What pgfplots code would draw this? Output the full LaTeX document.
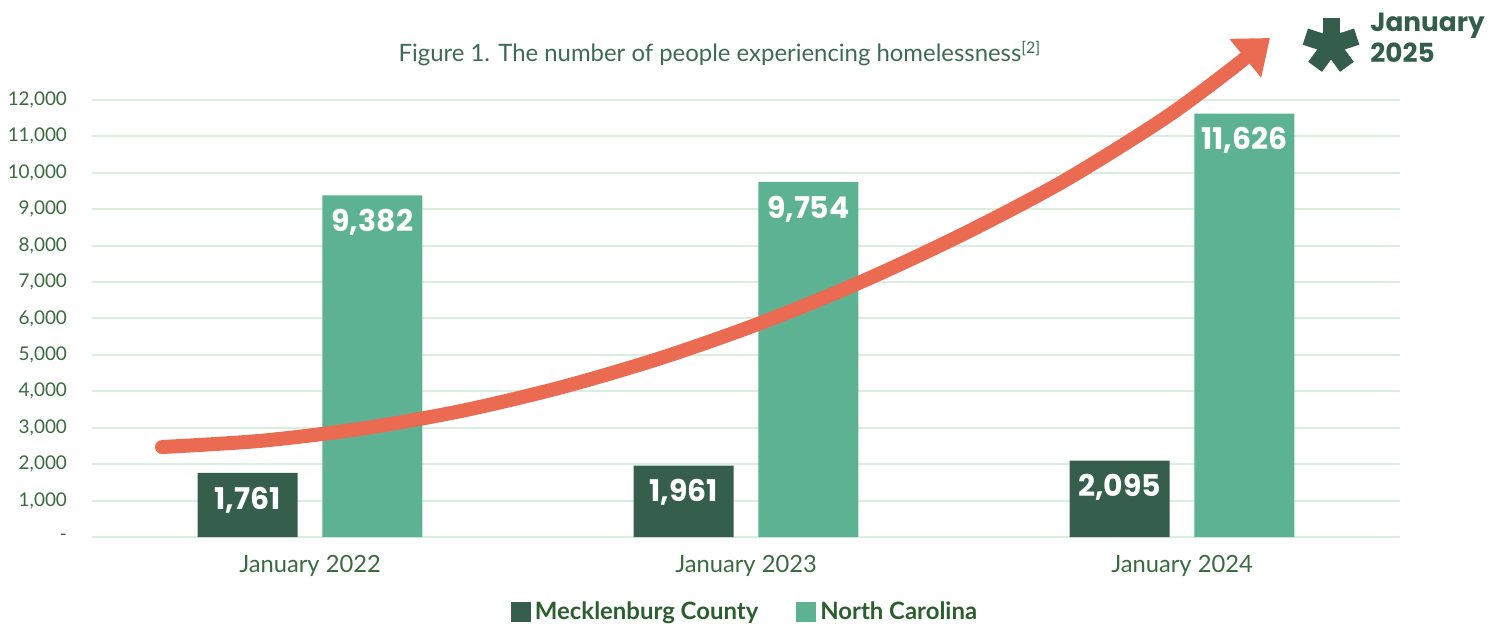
\documentclass[border=0pt]{standalone}
\usepackage{pgfplots}
\pgfplotsset{compat=1.18}
\usetikzlibrary{arrows.meta}
\usepackage{fontspec}
\setmainfont{Lato}
\newfontfamily\pop{Poppins}
\definecolor{darkbar}{HTML}{365E4C}
\definecolor{lightbar}{HTML}{5EB294}
\definecolor{arrowc}{HTML}{EA6A52}
\definecolor{gridc}{HTML}{D8EEDF}
\definecolor{tickc}{HTML}{3A6A40}
\definecolor{titlec}{HTML}{3D6A58}
\definecolor{legc}{HTML}{2D5E2F}
\definecolor{astc}{HTML}{345E4B}
\begin{document}
\begin{tikzpicture}
\useasboundingbox (0,0) rectangle (750bp,313bp);
\begin{axis}[
  at={(46bp,44.5bp)}, anchor=south west,
  scale only axis, width=654bp, height=218.5bp,
  xmin=-0.5, xmax=2.5, ymin=0, ymax=12000,
  clip=false,
  ybar, bar width=0.229,
  scaled y ticks=false,
  axis line style={draw=none},
  major tick length=0,
  ymajorgrids, grid style={color=gridc, line width=1bp},
  xtick={0,1,2},
  xticklabels={January 2022, January 2023, January 2024},
  ytick={0,1000,...,12000},
  yticklabels={{-\hspace{6bp}},{1,000},{2,000},{3,000},{4,000},{5,000},{6,000},{7,000},{8,000},{9,000},{10,000},{11,000},{12,000}},
  xticklabel style={anchor=base, yshift=-17.5bp, font=\fontsize{11.9}{14}\selectfont, text=tickc},
  yticklabel style={anchor=east, xshift=-9bp, font=\fontsize{9.5}{11}\selectfont, text=tickc},
  /pgf/number format/.cd, 1000 sep={,}, assume math mode=true, /pgfplots/.cd,
  legend columns=2,
  legend style={at={(0.5,-0.172)}, anchor=center, draw=none, fill=none,
    font=\fontsize{12}{14}\selectfont\bfseries, text=legc,
    /tikz/every even column/.append style={column sep=17bp}},
  legend image code/.code={\fill[#1] (0bp,-5bp) rectangle (10bp,5bp);},
  nodes near coords style={anchor=center, yshift=-13.5bp, text=white, font=\pop\bfseries\fontsize{15}{17}\selectfont},
]
\addplot[bar shift=-0.143, fill=darkbar, draw=none, nodes near coords]
  coordinates {(0,1761) (1,1961) (2,2095)};
\addlegendentry{Mecklenburg County}
\addplot[bar shift=0.143, fill=lightbar, draw=none, nodes near coords]
  coordinates {(0,9382) (1,9754) (2,11626)};
\addlegendentry{North Carolina}
\addplot[sharp plot, smooth, color=arrowc, line width=7bp, line cap=round,
  -{Triangle[width=24bp,length=16bp]}, forget plot]
  coordinates {(-0.3394,2471) (-0.1101,2644) (0.1193,2977) (0.3486,3465) (0.5780,4116)
   (0.8073,4924) (1.0367,5890) (1.2661,7016) (1.4954,8301) (1.7248,9746)
   (1.9541,11451) (2.0986,12714) (2.2018,13703)};
\end{axis}
\node[anchor=base, text=titlec, font=\fontsize{12}{14}\selectfont] at (360bp,282bp)
  {Figure 1. The number of people experiencing homelessness\textsuperscript{[2]}};
\begin{scope}[shift={(665.5bp,290.5bp)}]
  \foreach \a in {90,162,18,234,306}
    \draw[astc, line width=8.5bp] (0,0) -- (\a:13.5bp);
\end{scope}
\node[anchor=base west, inner sep=0, text=astc, font=\pop\bfseries\fontsize{13.2}{15}\selectfont] at (685bp,297bp) {January};
\node[anchor=base west, inner sep=0, text=astc, font=\pop\bfseries\fontsize{13.2}{15}\selectfont] at (685bp,281.5bp) {2025};
\end{tikzpicture}
\end{document}
